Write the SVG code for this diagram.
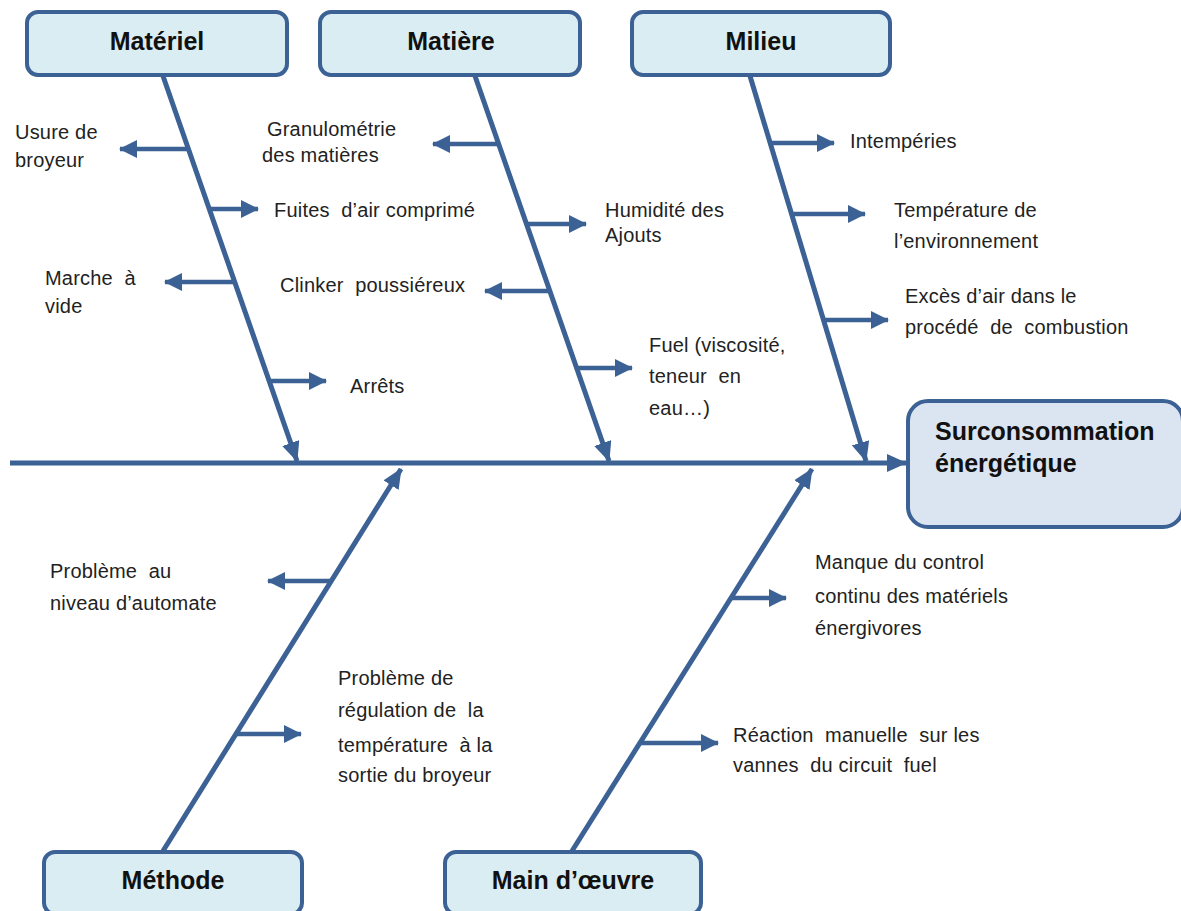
<svg xmlns="http://www.w3.org/2000/svg" width="1181" height="911" viewBox="0 0 1181 911">
<style>
.cat{fill:#daedf3;stroke:#3b6195;stroke-width:4}
.head{fill:#dbe5f1;stroke:#3b6195;stroke-width:4}
.ttl{font-family:"Liberation Sans",Arial,sans-serif;font-weight:bold;font-size:25px;fill:#111;text-anchor:middle}
.httl{font-family:"Liberation Sans",Arial,sans-serif;font-weight:bold;font-size:25px;fill:#111}
.lbl{font-family:"Liberation Sans",Arial,sans-serif;font-size:20px;fill:#222;white-space:pre;letter-spacing:0.2px}
.bone{stroke:#3b6195;stroke-width:5;fill:none;marker-end:url(#big)}
.sub{stroke:#3b6195;stroke-width:4.5;fill:none;marker-end:url(#small)}
</style>
<defs>
<marker id="big" markerUnits="userSpaceOnUse" viewBox="0 0 20 18" refX="19" refY="9" markerWidth="20" markerHeight="18" orient="auto">
<path d="M0,0 L20,9 L0,18 z" fill="#3b6195"/>
</marker>
<marker id="small" markerUnits="userSpaceOnUse" viewBox="0 0 18 18" refX="17" refY="9" markerWidth="18" markerHeight="18" orient="auto">
<path d="M0,0 L18,9 L0,18 z" fill="#3b6195"/>
</marker>
</defs>
<rect width="1181" height="911" fill="#ffffff"/>

<g id="connectors">
<line class="bone" x1="10" y1="463" x2="906" y2="463"/>
<line class="bone" x1="163" y1="76" x2="297" y2="461"/>
<line class="bone" x1="475" y1="76" x2="609" y2="461"/>
<line class="bone" x1="750" y1="76" x2="866" y2="461"/>
<line class="bone" x1="163" y1="851" x2="401" y2="469"/>
<line class="bone" x1="572" y1="851" x2="812" y2="469"/>

<line class="sub" x1="188" y1="149" x2="120" y2="149"/>
<line class="sub" x1="209" y1="209" x2="258" y2="209"/>
<line class="sub" x1="235" y1="282" x2="165" y2="282"/>
<line class="sub" x1="268" y1="381" x2="326" y2="381"/>

<line class="sub" x1="499" y1="144" x2="433" y2="144"/>
<line class="sub" x1="526" y1="224" x2="586" y2="224"/>
<line class="sub" x1="550" y1="291" x2="485" y2="291"/>
<line class="sub" x1="576" y1="368" x2="632" y2="368"/>

<line class="sub" x1="770" y1="143" x2="834" y2="143"/>
<line class="sub" x1="791" y1="214" x2="865" y2="214"/>
<line class="sub" x1="823" y1="320" x2="888" y2="320"/>

<line class="sub" x1="331" y1="581" x2="268" y2="581"/>
<line class="sub" x1="236" y1="734" x2="301" y2="734"/>

<line class="sub" x1="731" y1="598" x2="786" y2="598"/>
<line class="sub" x1="640" y1="743" x2="718" y2="743"/>
</g>

<g id="node-materiel">
<rect class="cat" x="27" y="12" width="260" height="63" rx="11"/>
<text class="ttl" x="157" y="50">Matériel</text>
</g>
<g id="node-matiere">
<rect class="cat" x="320" y="12" width="260" height="63" rx="11"/>
<text class="ttl" x="451" y="50">Matière</text>
</g>
<g id="node-milieu">
<rect class="cat" x="632" y="12" width="258" height="63" rx="11"/>
<text class="ttl" x="761" y="50">Milieu</text>
</g>
<g id="node-methode">
<rect class="cat" x="44" y="852" width="258" height="62" rx="11"/>
<text class="ttl" x="173" y="889">Méthode</text>
</g>
<g id="node-main-oeuvre">
<rect class="cat" x="445" y="852" width="256" height="62" rx="11"/>
<text class="ttl" x="573" y="889">Main d’œuvre</text>
</g>
<g id="node-effet">
<rect class="head" x="908" y="401" width="275" height="126" rx="20"/>
<text class="httl" x="935" y="440">Surconsommation</text>
<text class="httl" x="935" y="472">énergétique</text>
</g>

<g id="causes-materiel">
<text class="lbl" x="15" y="139">Usure de</text>
<text class="lbl" x="15" y="167">broyeur</text>
<text class="lbl" x="274" y="217">Fuites  d’air comprimé</text>
<text class="lbl" x="45" y="285">Marche  à</text>
<text class="lbl" x="45" y="313">vide</text>
<text class="lbl" x="350" y="393">Arrêts</text>
</g>
<g id="causes-matiere">
<text class="lbl" x="267" y="136">Granulométrie</text>
<text class="lbl" x="262" y="162">des matières</text>
<text class="lbl" x="605" y="217">Humidité des</text>
<text class="lbl" x="605" y="242">Ajouts</text>
<text class="lbl" x="280" y="292">Clinker  poussiéreux</text>
<text class="lbl" x="649" y="352">Fuel (viscosité,</text>
<text class="lbl" x="649" y="383">teneur  en</text>
<text class="lbl" x="649" y="415">eau…)</text>
</g>
<g id="causes-milieu">
<text class="lbl" x="850" y="148">Intempéries</text>
<text class="lbl" x="894" y="217">Température de</text>
<text class="lbl" x="894" y="248">l’environnement</text>
<text class="lbl" x="905" y="303">Excès d’air dans le</text>
<text class="lbl" x="905" y="334">procédé  de  combustion</text>
</g>
<g id="causes-methode">
<text class="lbl" x="50" y="578">Problème  au</text>
<text class="lbl" x="50" y="610">niveau d’automate</text>
<text class="lbl" x="338" y="685">Problème de</text>
<text class="lbl" x="338" y="717">régulation de  la</text>
<text class="lbl" x="338" y="752">température  à la</text>
<text class="lbl" x="338" y="782">sortie du broyeur</text>
</g>
<g id="causes-main-oeuvre">
<text class="lbl" x="815" y="569">Manque du control</text>
<text class="lbl" x="815" y="603">continu des matériels</text>
<text class="lbl" x="815" y="635">énergivores</text>
<text class="lbl" x="733" y="742">Réaction  manuelle  sur les</text>
<text class="lbl" x="733" y="772">vannes  du circuit  fuel</text>
</g>
</svg>
